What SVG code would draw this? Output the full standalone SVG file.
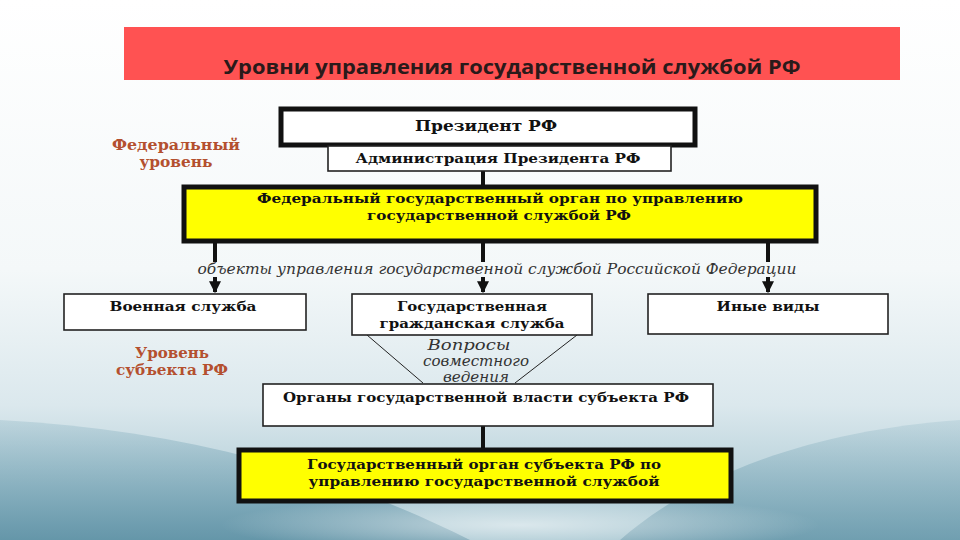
<svg xmlns="http://www.w3.org/2000/svg" width="960" height="540" viewBox="0 0 960 540">
<defs>
<linearGradient id="bg" x1="0" y1="0" x2="0" y2="1">
<stop offset="0" stop-color="#ffffff"/>
<stop offset="0.5" stop-color="#f4f8f9"/>
<stop offset="0.75" stop-color="#dbe8ed"/>
<stop offset="1" stop-color="#9dc0cc"/>
</linearGradient>
<radialGradient id="glow" cx="0.5" cy="0.5" r="0.5">
<stop offset="0" stop-color="#ffffff" stop-opacity="0.6"/>
<stop offset="1" stop-color="#ffffff" stop-opacity="0"/>
</radialGradient>
<linearGradient id="waveL" x1="0" y1="0" x2="0" y2="1">
<stop offset="0" stop-color="#7aa8b9" stop-opacity="0.25"/>
<stop offset="1" stop-color="#5b8fa3" stop-opacity="0.85"/>
</linearGradient>
<marker id="arr" viewBox="0 0 10 10" refX="9" refY="5" markerWidth="3" markerHeight="3" orient="auto">
<path d="M0,0 L10,5 L0,10 z" fill="#111"/>
</marker>
<style>
.thick{fill:#fff;stroke:#111;stroke-width:5}
.yel{fill:#ffff00;stroke:#111;stroke-width:5}
.thin{fill:#fff;stroke:#222;stroke-width:1.6}
.t{font-family:"DejaVu Serif","Liberation Serif",serif;font-weight:bold;fill:#111;text-anchor:middle}
.lvl{font-family:"DejaVu Serif","Liberation Serif",serif;font-weight:bold;fill:#b4502f;text-anchor:middle;font-size:14px}
.it{font-family:"DejaVu Serif","Liberation Serif",serif;font-style:italic;fill:#333;text-anchor:middle}
.ln{stroke:#111;stroke-width:4;fill:none}
.tl{stroke:#222;stroke-width:1;fill:none}
</style>
</defs>
<rect width="960" height="540" fill="url(#bg)"/>
<path d="M0,420 C180,430 330,470 470,540 L0,540 Z" fill="url(#waveL)"/>
<path d="M960,420 C820,430 700,470 620,540 L960,540 Z" fill="url(#waveL)" opacity="0.8"/>
<ellipse cx="520" cy="525" rx="300" ry="30" fill="url(#glow)"/>

<g id="title">
<rect x="124" y="27" width="776" height="53" fill="#ff5252"/>
<text x="512" y="74" font-family="'Open Sans','Liberation Sans',sans-serif" font-weight="bold" font-size="19" fill="#2a1a1a" text-anchor="middle" textLength="577" lengthAdjust="spacingAndGlyphs">Уровни управления государственной службой РФ</text>
</g>

<g id="label-federal">
<text class="lvl" x="176" y="150" textLength="128" lengthAdjust="spacingAndGlyphs">Федеральный</text>
<text class="lvl" x="176" y="167" textLength="73" lengthAdjust="spacingAndGlyphs">уровень</text>
</g>
<g id="label-subject">
<text class="lvl" x="172" y="358" textLength="74" lengthAdjust="spacingAndGlyphs">Уровень</text>
<text class="lvl" x="172" y="375" textLength="112" lengthAdjust="spacingAndGlyphs">субъекта РФ</text>
</g>

<g id="connectors">
<line class="ln" x1="483" y1="171" x2="483" y2="186"/>
<line class="ln" x1="215" y1="242" x2="215" y2="262"/>
<line class="ln" x1="483" y1="242" x2="483" y2="262"/>
<line class="ln" x1="768" y1="242" x2="768" y2="262"/>
<line class="ln" x1="215" y1="277" x2="215" y2="292" marker-end="url(#arr)"/>
<line class="ln" x1="483" y1="277" x2="483" y2="292" marker-end="url(#arr)"/>
<line class="ln" x1="768" y1="277" x2="768" y2="292" marker-end="url(#arr)"/>
<line class="tl" x1="367" y1="335" x2="423" y2="383"/>
<line class="tl" x1="577" y1="335" x2="515" y2="383"/>
<line class="ln" x1="483" y1="426" x2="483" y2="449"/>
</g>

<g id="president">
<rect class="thick" x="281" y="109" width="414" height="36"/>
<text class="t" x="486" y="131" font-size="15" textLength="142" lengthAdjust="spacingAndGlyphs">Президент РФ</text>
</g>
<g id="administration">
<rect class="thin" x="328" y="146" width="343" height="25"/>
<text class="t" x="498" y="163" font-size="13" textLength="285" lengthAdjust="spacingAndGlyphs">Администрация Президента РФ</text>
</g>
<g id="federal-organ">
<rect class="yel" x="184" y="187" width="632" height="54"/>
<text class="t" x="500" y="203" font-size="13" textLength="486" lengthAdjust="spacingAndGlyphs">Федеральный государственный орган по управлению</text>
<text class="t" x="499" y="220" font-size="13" textLength="264" lengthAdjust="spacingAndGlyphs">государственной службой РФ</text>
</g>

<g id="objects-label">
<text class="it" x="497" y="274" font-size="14" textLength="599" lengthAdjust="spacingAndGlyphs">объекты управления государственной службой  Российской  Федерации</text>
</g>

<g id="military">
<rect class="thin" x="64" y="294" width="242" height="36"/>
<text class="t" x="183" y="311" font-size="13" textLength="147" lengthAdjust="spacingAndGlyphs">Военная служба</text>
</g>
<g id="civil">
<rect class="thin" x="352" y="294" width="240" height="41"/>
<text class="t" x="472" y="311" font-size="13" textLength="150" lengthAdjust="spacingAndGlyphs">Государственная</text>
<text class="t" x="472" y="328" font-size="13" textLength="185" lengthAdjust="spacingAndGlyphs">гражданская служба</text>
</g>
<g id="other">
<rect class="thin" x="648" y="294" width="240" height="40"/>
<text class="t" x="768" y="311" font-size="13" textLength="103" lengthAdjust="spacingAndGlyphs">Иные виды</text>
</g>

<g id="joint-label">
<text class="it" x="469" y="350" font-size="14" textLength="83" lengthAdjust="spacingAndGlyphs">Вопросы</text>
<text class="it" x="476" y="366" font-size="14" textLength="106" lengthAdjust="spacingAndGlyphs">совместного</text>
<text class="it" x="476" y="382" font-size="14" textLength="66" lengthAdjust="spacingAndGlyphs">ведения</text>
</g>

<g id="subject-bodies">
<rect class="thin" x="263" y="384" width="450" height="42"/>
<text class="t" x="486" y="402" font-size="13" textLength="406" lengthAdjust="spacingAndGlyphs">Органы государственной власти субъекта РФ</text>
</g>
<g id="subject-organ">
<rect class="yel" x="239" y="450" width="492" height="51"/>
<text class="t" x="484" y="469" font-size="13" textLength="354" lengthAdjust="spacingAndGlyphs">Государственный орган субъекта РФ по</text>
<text class="t" x="484" y="486" font-size="13" textLength="351" lengthAdjust="spacingAndGlyphs">управлению государственной службой</text>
</g>
</svg>
